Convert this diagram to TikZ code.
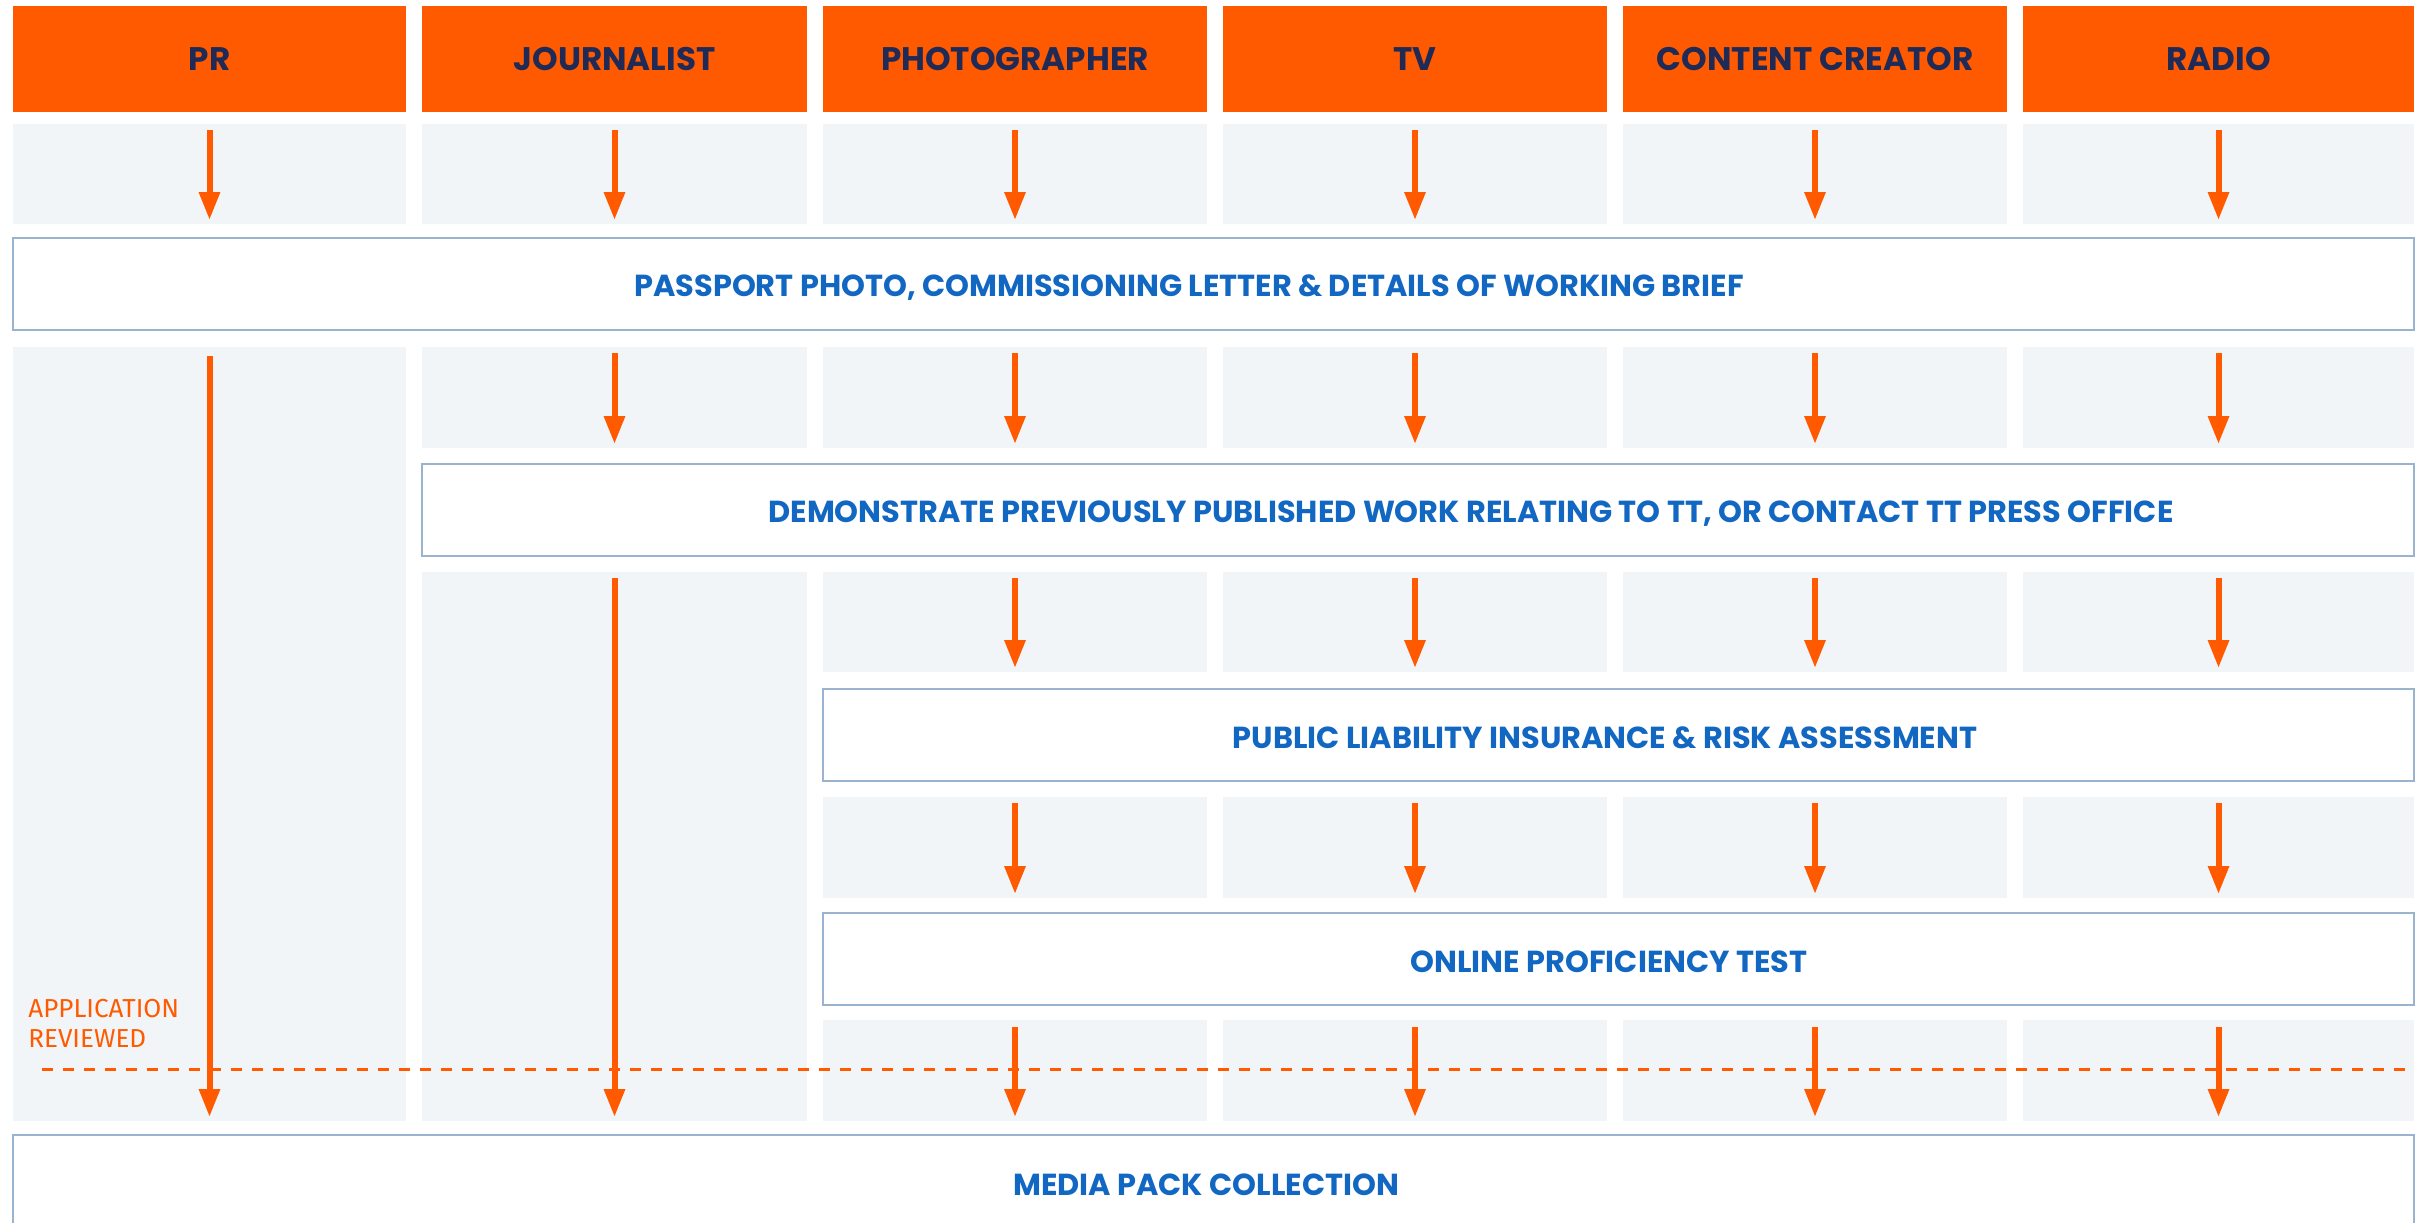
\documentclass[tikz,border=0pt]{standalone}
\usepackage{fontspec}
\setmainfont{Poppins}
\newfontfamily\notefont{Fira Sans}
\usepackage{xcolor}
\usetikzlibrary{arrows.meta}

\definecolor{ttorange}{HTML}{FF5A00}
\definecolor{ttnavy}{HTML}{1F2A56}
\definecolor{ttblue}{HTML}{1167C2}
\definecolor{ttframe}{HTML}{9AB3CF}
\definecolor{ttgrey}{HTML}{F2F5F8}

\tikzset{
  head/.style={fill=ttorange, text=ttnavy, font=\bfseries\fontsize{16.3}{19}\selectfont,
    anchor=north west, inner sep=0pt, outer sep=0pt, minimum height=53pt,
    text height=11.4pt, text depth=0pt},
  cell/.style={fill=ttgrey, anchor=north west, inner sep=0pt, outer sep=0pt},
  stepbox/.style={draw=ttframe, line width=1pt, fill=white, anchor=north west,
    inner sep=0pt, outer sep=0pt, minimum height=46pt},
  steptext/.style={text=ttblue, font=\bfseries\fontsize{15.2}{18}\selectfont,
    inner sep=0pt, text height=10.6pt, text depth=0pt},
  note/.style={text=ttorange, font=\notefont\fontsize{13}{15}\selectfont,
    align=left, anchor=north west, inner sep=0pt},
  flow/.style={ttorange, line width=3pt, -{Triangle[length=14pt,width=10pt]},
    shorten <=3pt, shorten >=2pt},
  review/.style={ttorange, line width=1.5pt, dash pattern=on 5.5pt off 5pt}
}

\begin{document}
\begin{tikzpicture}[x=0.5pt,y=-0.5pt]
\useasboundingbox (0,0) rectangle (2425,1222);

% header row and first grey row
\foreach \n/\l/\r/\t in {pr/13/406/PR, jo/422/807/JOURNALIST, ph/823/1207/PHOTOGRAPHER,
    tv/1223/1607/TV, cc/1623/2007/CONTENT CREATOR, ra/2023/2414/RADIO}
{
  \node[head, minimum width={(\r-\l)*0.5pt}] (h\n) at (\l,6) {\t};
  \node[cell, minimum width={(\r-\l)*0.5pt}, minimum height=50pt] (a\n) at (\l,124) {};
  \draw[flow] (a\n.north) -- (a\n.south);
}

% long grey columns
\node[cell, minimum width=196.5pt, minimum height=387pt] (bpr) at (13,347) {};
\node[cell, minimum width=192.5pt, minimum height=274.5pt] (cjo) at (422,572) {};
\draw[flow, shorten <=4.5pt] (bpr.north) -- (bpr.south);
\draw[flow] (cjo.north) -- (cjo.south);

% second grey row
\foreach \n/\l/\r in {jo/422/807, ph/823/1207, tv/1223/1607, cc/1623/2007, ra/2023/2414}
{
  \node[cell, minimum width={(\r-\l)*0.5pt}, minimum height=50.5pt] (b\n) at (\l,347) {};
  \draw[flow] (b\n.north) -- (b\n.south);
}

% rows three to five
\foreach \n/\l/\r in {ph/823/1207, tv/1223/1607, cc/1623/2007, ra/2023/2414}
{
  \node[cell, minimum width={(\r-\l)*0.5pt}, minimum height=50pt] (c\n) at (\l,572) {};
  \node[cell, minimum width={(\r-\l)*0.5pt}, minimum height=50.5pt] (d\n) at (\l,797) {};
  \node[cell, minimum width={(\r-\l)*0.5pt}, minimum height=50.5pt] (e\n) at (\l,1020) {};
  \draw[flow] (c\n.north) -- (c\n.south);
  \draw[flow] (d\n.north) -- (d\n.south);
  \draw[flow, shorten <=3.5pt] (e\n.north) -- (e\n.south);
}

% steps
\node[stepbox, minimum width=1200.5pt] (bx1) at (13,238) {};
\node[stepbox, minimum width=996pt] (bx2) at (422,464) {};
\node[stepbox, minimum width=795.5pt] (bx3) at (823,689) {};
\node[stepbox, minimum width=795.5pt] (bx4) at (823,913) {};
\node[stepbox, minimum width=1200.5pt, minimum height=50pt] (bx5) at (13,1135) {};

\node[steptext] (t1) at (1189,286) {PASSPORT PHOTO, COMMISSIONING LETTER \& DETAILS OF WORKING BRIEF};
\node[steptext] (t2) at (1471,512) {DEMONSTRATE PREVIOUSLY PUBLISHED WORK RELATING TO TT, OR CONTACT TT PRESS OFFICE};
\node[steptext] (t3) at (1605,738) {PUBLIC LIABILITY INSURANCE \& RISK ASSESSMENT};
\node[steptext] (t4) at (1609,962) {ONLINE PROFICIENCY TEST};
\node[steptext] (t5) at (1206,1185) {MEDIA PACK COLLECTION};

% review line
\coordinate (revL) at (42,1069);
\coordinate (revR) at (2414,1069);
\draw[review] (revL) -- (revR);
\node[note] (rev) at (28,999) {APPLICATION\\REVIEWED};
\end{tikzpicture}
\end{document}
